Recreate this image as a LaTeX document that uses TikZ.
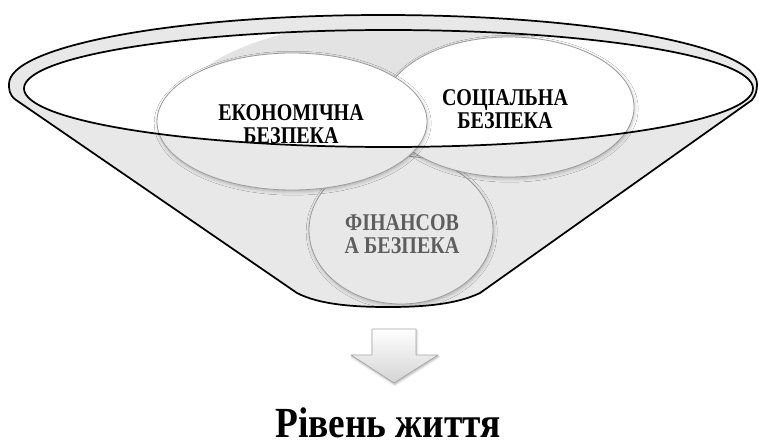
\documentclass[tikz,border=0pt]{standalone}
\usepackage{graphicx}
\usepackage{fontspec}
\setmainfont{Liberation Serif}
\usetikzlibrary{shadows.blur}

\definecolor{funnelgray}{HTML}{E8E8E8}
\definecolor{blobgray}{HTML}{E3E3E3}
\definecolor{rimline}{HTML}{9A9A9A}
\definecolor{fadedtext}{HTML}{5E5E5E}
\definecolor{arrowedge}{HTML}{A8A8A8}
\definecolor{arrowlow}{HTML}{D4D4D4}

\tikzset{
  outline/.style={draw=black, line width=1.3pt, line join=round},
  bubble/.style={draw=rimline, line width=0.6pt},
  bubbleshadow/.style={blur shadow={shadow xshift=0.5pt, shadow yshift=-1.3pt,
      shadow blur radius=2.6pt, shadow opacity=25}},
  bubbletext/.style={font=\bfseries\fontsize{15}{14.4}\selectfont, inner sep=0pt},
  resulttext/.style={font=\bfseries\fontsize{28}{30}\selectfont, inner sep=0pt}
}

% two centred lines of text, set a little taller than wide
\newcommand\tallstack[1]{\scalebox{1}[1.2]{\begin{tabular}{@{}c@{}}#1\end{tabular}}}

% region of the funnel in front of its mouth (below the lower rim arc)
\newcommand\funnelfrontclip{%
  \clip (0,88.5) -- (24,88.5)
    arc[start angle=180, end angle=0, x radius=364.5, y radius=58.5]
    -- (759,88.5) -- (759,446) -- (0,446) -- cycle;}

\begin{document}
\begin{tikzpicture}[x=0.75pt, y=-0.75pt]
\useasboundingbox (0,0) rectangle (759,446);

% funnel body with its outer rim
\path[fill=funnelgray, outline]
  (297,293) -- (16,100) .. controls (9,95) and (9,89) .. (9,84)
  arc[start angle=180, end angle=360, x radius=374, y radius=69]
  .. controls (757,90) and (756,95) .. (752,100) -- (480,293)
  .. controls (455,305) and (420,307) .. (388,307)
  .. controls (356,307) and (320,305) .. (297,293) -- cycle;

% mouth of the funnel
\fill[white] (388.5,88.5) ellipse[x radius=364.5, y radius=58.5];
\begin{scope}
  \clip (388.5,88.5) ellipse[x radius=364.5, y radius=58.5];
  \fill[blobgray] (402,116) ellipse[x radius=228, y radius=96];
\end{scope}

% financial security (back)
\coordinate (finc) at (401,230);
\fill[white, bubbleshadow] (finc) ellipse[x radius=92, y radius=74];
\begin{scope}
  \funnelfrontclip
  \fill[funnelgray] (finc) ellipse[x radius=92, y radius=74];
\end{scope}
\draw[bubble] (finc) ellipse[x radius=92, y radius=74];
\node[bubbletext, text=fadedtext] (fin) at (402,237) {\tallstack{ФІНАНСОВ\\А БЕЗПЕКА}};

% social security
\coordinate (socc) at (509,107);
\fill[white, bubbleshadow] (socc) ellipse[x radius=125, y radius=70];
\begin{scope}
  \funnelfrontclip
  \fill[funnelgray] (socc) ellipse[x radius=125, y radius=70];
\end{scope}
\draw[bubble] (socc) ellipse[x radius=125, y radius=70];
\node[bubbletext] (soc) at (505,112) {\tallstack{СОЦІАЛЬНА\\БЕЗПЕКА}};

% economic security (front)
\coordinate (ecoc) at (292,121.5);
\fill[white, bubbleshadow] (ecoc) ellipse[x radius=135, y radius=68.5];
\begin{scope}
  \funnelfrontclip
  \fill[funnelgray] (ecoc) ellipse[x radius=135, y radius=68.5];
\end{scope}
\draw[bubble] (ecoc) ellipse[x radius=135, y radius=68.5];
\node[bubbletext] (eco) at (291,127) {\tallstack{ЕКОНОМІЧНА\\БЕЗПЕКА}};

% inner rim line on top
\draw[outline] (388.5,88.5) ellipse[x radius=364.5, y radius=58.5];

% block arrow down
\path[draw=arrowedge, line width=0.6pt, line join=round, top color=white,
      bottom color=arrowlow, blur shadow={shadow xshift=0.5pt, shadow yshift=-1.2pt,
      shadow blur radius=1.6pt, shadow opacity=30}]
  (372,329) -- (416,329) -- (416,355) -- (438,355) -- (394,383)
  -- (351,355) -- (372,355) -- cycle;

% result
\node[resulttext, anchor=base] (level) at (388,437)
  {\scalebox{1}[1.15]{Рівень життя}};
\end{tikzpicture}
\end{document}
